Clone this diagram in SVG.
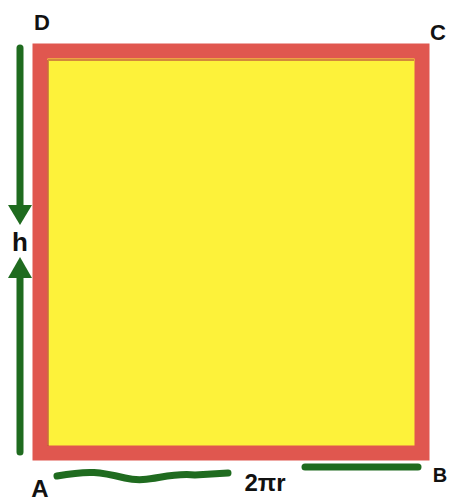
<svg xmlns="http://www.w3.org/2000/svg" width="455" height="504" viewBox="0 0 455 504">
<style>
.lbl{font-family:"Liberation Sans",Arial,sans-serif;font-weight:bold;fill:#111;}
.g{stroke:#1f6b1f;stroke-linecap:round;fill:none;}
</style>
<rect width="455" height="504" fill="#fff"/>
<g id="rect">
<rect x="40" y="51" width="382" height="402" fill="#fdf23a" stroke="#e0574f" stroke-width="15"/>
<path d="M48 60 L48 446 M48 60 L414 60" stroke="#b8443a" stroke-width="2" fill="none" opacity="0.6"/>
</g>
<g id="h-dim">
<line class="g" x1="20" y1="48" x2="20" y2="208" stroke-width="7"/>
<polygon points="8,205 32,205 20,225" fill="#1f6b1f"/>
<line class="g" x1="20" y1="275" x2="20" y2="452" stroke-width="7"/>
<polygon points="8,278 32,278 20,257" fill="#1f6b1f"/>
<text class="lbl" x="20" y="251" font-size="26" text-anchor="middle">h</text>
</g>
<g id="base-dim">
<path class="g" d="M57 476 C90 470 100 472 125 478 C150 484 165 472 195 475 L228 473" stroke-width="7"/>
<line class="g" x1="305" y1="467" x2="418" y2="467" stroke-width="7"/>
<text class="lbl" x="265" y="491" font-size="24" text-anchor="middle">2πr</text>
</g>
<g id="labels">
<text class="lbl" x="42" y="30" font-size="22" text-anchor="middle">D</text>
<text class="lbl" x="438" y="40" font-size="22" text-anchor="middle">C</text>
<text class="lbl" x="40" y="497" font-size="24" text-anchor="middle">A</text>
<text class="lbl" x="440" y="482" font-size="20" text-anchor="middle">B</text>
</g>
</svg>
